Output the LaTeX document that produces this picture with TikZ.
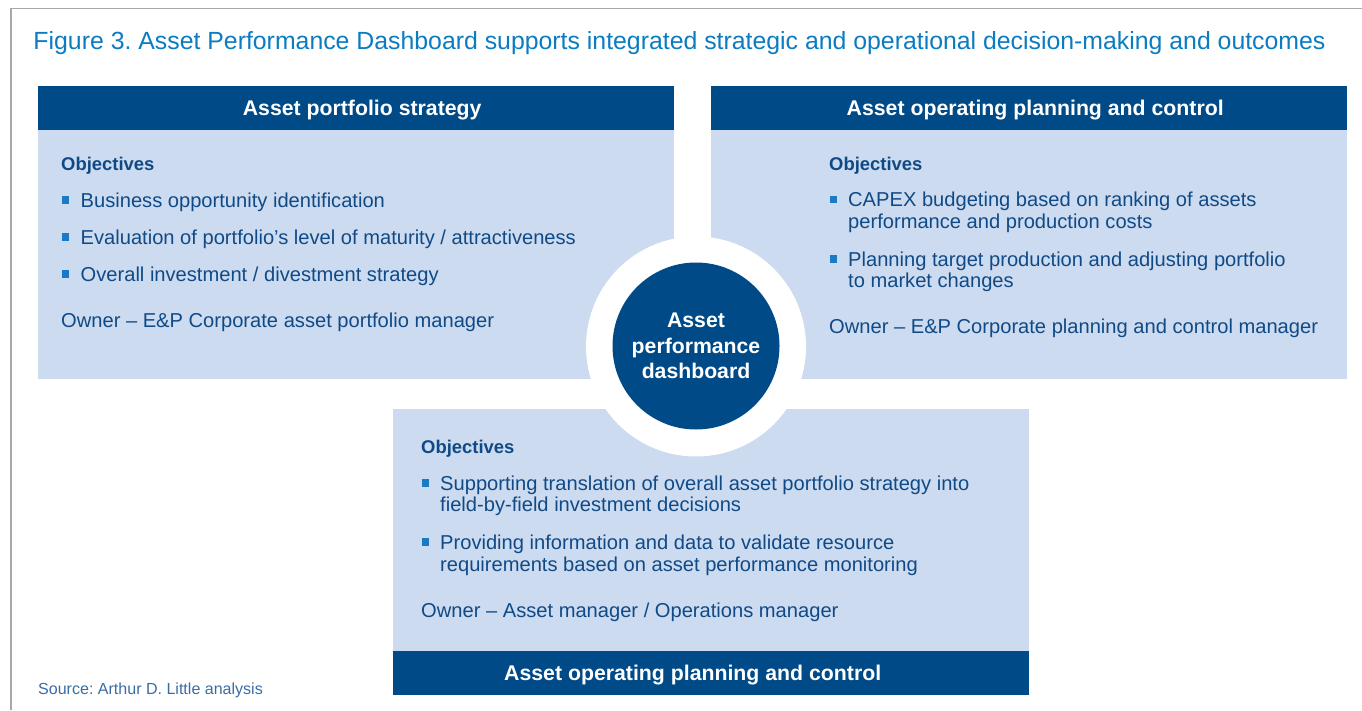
\documentclass[tikz,border=0pt]{standalone}
\usepackage{fontspec}
\setmainfont{Liberation Sans}
\usepackage{graphicx}
\frenchspacing

\definecolor{hdblue}{HTML}{004A87}
\definecolor{paleblue}{HTML}{CCDBF0}
\definecolor{titleblue}{HTML}{0B7CC2}
\definecolor{txtblue}{HTML}{104A86}
\definecolor{bulblue}{HTML}{1A7BC4}
\definecolor{srcblue}{HTML}{3A6DA5}
\definecolor{framegray}{HTML}{A8A8A8}

% two stacked lines whose reference point is the first baseline
\newcommand{\twolines}[2]{\vtop{\hbox{#1}\hbox{#2}}}

\tikzset{
  bodybox/.style={fill=paleblue, draw=none, inner sep=0, anchor=north west},
  headbox/.style={fill=hdblue, draw=none, inner sep=0, anchor=north west},
  headtext/.style={text=white, inner sep=0, font=\fontsize{21.35}{25}\bfseries\selectfont,
    text height=15.2bp, text depth=0bp},
  objtext/.style={text=txtblue, inner sep=0, anchor=base west, font=\fontsize{18.5}{22}\bfseries\selectfont},
  itemtext/.style={text=txtblue, inner sep=0, anchor=base west, font=\fontsize{20.2}{21.8}\selectfont},
  bulletsq/.style={fill=bulblue, draw=none, inner sep=0, minimum size=7.8bp},
}

\begin{document}
\begin{tikzpicture}[x=1bp, y=-1bp]
\useasboundingbox (0,0) rectangle (1362,710);
\fill[white] (0,0) rectangle (1362,710);

% frame lines
\coordinate (fbot) at (11,710);
\coordinate (fcorner) at (11,8.5);
\coordinate (fright) at (1362,8.5);
\draw[framegray, line width=1.7bp] (fbot) -- (fcorner) -- (fright);

% title
\node[anchor=base west, inner sep=0, text=titleblue] (title) at (33.3,49.3)
  {\resizebox{1292bp}{!}{\fontsize{24.5}{28}\selectfont Figure 3. Asset Performance Dashboard supports integrated strategic and operational decision-making and outcomes}};

% panel bodies
\node[bodybox, minimum width=636bp, minimum height=249.5bp] (tlbody) at (38,129.5) {};
\node[bodybox, minimum width=636bp, minimum height=249.5bp] (trbody) at (711,129.5) {};
\node[bodybox, minimum width=636bp, minimum height=242bp] (bbody) at (393,409) {};

% header bars
\node[headbox, minimum width=636bp, minimum height=43.5bp] (tlhead) at (38,86) {};
\node[headbox, minimum width=636bp, minimum height=43.5bp] (trhead) at (711,86) {};
\node[headbox, minimum width=636bp, minimum height=44bp] (bhead) at (393,651) {};
\node[headtext] (tlheadtxt) at ([xshift=6bp]tlhead.center) {Asset portfolio strategy};
\node[headtext] (trheadtxt) at ([xshift=6bp]trhead.center) {Asset operating planning and control};
\node[headtext] (bheadtxt) at ([xshift=-18.5bp]bhead.center) {Asset operating planning and control};

% hub
\node[circle, fill=white, draw=none, minimum size=220bp, inner sep=0] (ring) at (696,346.5) {};
\node[circle, fill=hdblue, draw=none, minimum size=167bp, inner sep=0, text=white,
  align=center, font=\fontsize{21.3}{25.3}\bfseries\selectfont] (hub) at (696,346)
  {Asset\\performance\\dashboard};

% top-left panel text
\node[objtext] (tlobj) at (61,170) {Objectives};
\node[bulletsq] (tlb1) at (65.5,199.8) {};
\node[itemtext] (tlt1) at (80.5,207) {Business opportunity identification};
\node[bulletsq] (tlb2) at (65.5,236.8) {};
\node[itemtext] (tlt2) at (80.5,244) {Evaluation of portfolio’s level of maturity / attractiveness};
\node[bulletsq] (tlb3) at (65.5,273.8) {};
\node[itemtext] (tlt3) at (80.5,281) {Overall investment / divestment strategy};
\node[itemtext] (tlown) at (61,327) {Owner – E\&P Corporate asset portfolio manager};

% top-right panel text
\node[objtext] (trobj) at (829,170) {Objectives};
\node[bulletsq] (trb1) at (833.5,199.5) {};
\node[itemtext] (trt1) at (848,206.7)
  {\twolines{CAPEX budgeting based on ranking of assets}{performance and production costs}};
\node[bulletsq] (trb2) at (833.5,258.8) {};
\node[itemtext] (trt2) at (848,266)
  {\twolines{Planning target production and adjusting portfolio}{to market changes}};
\node[itemtext] (trown) at (829,333.5) {Owner – E\&P Corporate planning and control manager};

% bottom panel text
\node[objtext] (bobj) at (421,453) {Objectives};
\node[bulletsq] (bb1) at (425.5,482.8) {};
\node[itemtext] (bt1) at (440,490)
  {\twolines{Supporting translation of overall asset portfolio strategy into}{field-by-field investment decisions}};
\node[bulletsq] (bb2) at (425.5,542.3) {};
\node[itemtext] (bt2) at (440,549.5)
  {\twolines{Providing information and data to validate resource}{requirements based on asset performance monitoring}};
\node[itemtext] (bown) at (421,617) {Owner – Asset manager / Operations manager};

% source line
\node[anchor=base west, inner sep=0, text=srcblue, font=\fontsize{16.1}{18}\selectfont] (src) at (38,694.5)
  {Source: Arthur D. Little analysis};
\end{tikzpicture}
\end{document}
